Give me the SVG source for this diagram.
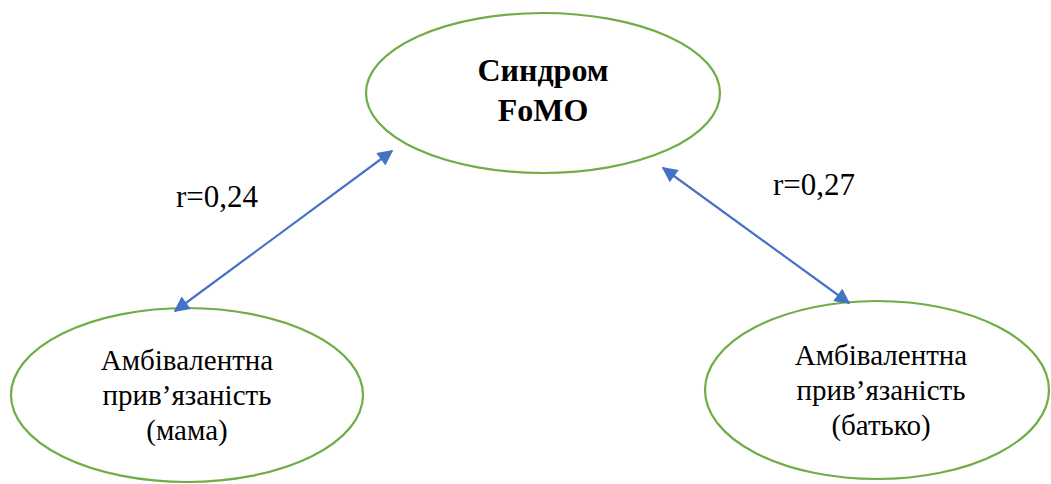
<svg xmlns="http://www.w3.org/2000/svg" width="1051" height="484" viewBox="0 0 1051 484">
<style>
.node{fill:#fff;stroke:#70AD47;stroke-width:2.2}
.t{font-family:"Liberation Serif","Times New Roman",serif;font-size:29px;fill:#000;text-anchor:middle}
.b{font-weight:bold;font-size:32px}
.lbl{font-family:"Liberation Serif","Times New Roman",serif;font-size:31px;fill:#000}
.c{stroke:#4472C4;stroke-width:2.2;fill:none;marker-start:url(#ah);marker-end:url(#ah)}
</style>
<defs>
<marker id="ah" viewBox="0 0 10 10" refX="9" refY="5" markerWidth="8" markerHeight="7" orient="auto-start-reverse" markerUnits="strokeWidth">
<path d="M0,0 L10,5 L0,10 z" fill="#4472C4"/>
</marker>
</defs>
<g id="fomo">
<ellipse class="node" cx="543" cy="93" rx="177" ry="80"/>
<text class="t b" x="543" y="81">Синдром</text>
<text class="t b" x="543" y="121">FoMO</text>
</g>
<g id="mama">
<ellipse class="node" cx="187" cy="395" rx="176" ry="87"/>
<text class="t" x="187" y="370">Амбівалентна</text>
<text class="t" x="187" y="405">прив’язаність</text>
<text class="t" x="187" y="440">(мама)</text>
</g>
<g id="batko">
<ellipse class="node" cx="877" cy="390" rx="172" ry="89"/>
<text class="t" x="881" y="365">Амбівалентна</text>
<text class="t" x="881" y="400">прив’язаність</text>
<text class="t" x="881" y="435">(батько)</text>
</g>
<g id="connectors">
<line class="c" x1="175" y1="311" x2="392" y2="151"/>
<line class="c" x1="663" y1="168" x2="849" y2="303"/>
<text class="lbl" x="176" y="207">r=0,24</text>
<text class="lbl" x="773" y="195">r=0,27</text>
</g>
</svg>
